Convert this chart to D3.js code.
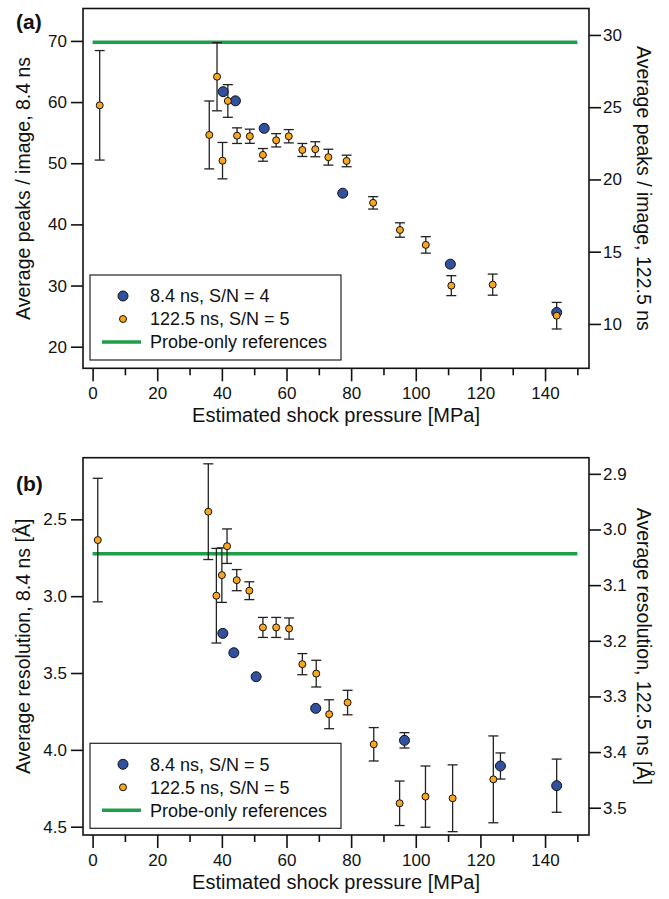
<!DOCTYPE html>
<html>
<head>
<meta charset="utf-8">
<script src="https://cdn.jsdelivr.net/npm/d3@7"></script>
<style>
body { margin: 0; background: #fff; }
svg text { font-family: "Liberation Sans", Arial, sans-serif; fill: #111; }
</style>
</head>
<body>
<div id="chart"></div>
<script>
// ---- panel (a): peaks per image ----
var peaksFastX = [40.4, 44.2, 53.1, 77.4, 110.7, 143.6]
var peaksFastY = [61.7, 60.2, 55.7, 45.1, 33.5, 25.6]
var peaksFastErr = [0, 0, 0, 0, 0, 0]

var peaksSlowX = [2.2, 36.1, 38.5, 40.2, 41.85, 44.7, 48.65, 52.7, 56.8, 60.7, 64.9, 68.9, 72.95, 78.6, 86.8, 95.1, 103.1, 111.0, 123.8, 143.6]
var peaksSlowY = [25.13, 23.08, 27.11, 21.30, 25.43, 23.03, 22.99, 21.70, 22.71, 22.99, 22.04, 22.09, 21.54, 21.28, 18.38, 16.50, 15.47, 12.65, 12.72, 10.57]
var peaksSlowErr = [3.79, 2.35, 2.36, 1.26, 1.13, 0.54, 0.49, 0.44, 0.46, 0.46, 0.45, 0.52, 0.55, 0.40, 0.43, 0.50, 0.57, 0.69, 0.73, 0.92]

var peaksRef = 69.8

// ---- panel (b): resolution ----
var resFastX = [40.3, 43.7, 50.6, 69.05, 96.5, 126.2, 143.6]
var resFastY = [3.242, 3.368, 3.524, 3.730, 3.938, 4.105, 4.233]
var resFastErr = [0, 0, 0, 0.01, 0.05, 0.085, 0.173]

var resSlowX = [1.6, 35.8, 38.3, 40.0, 41.6, 44.6, 48.5, 52.7, 56.8, 60.8, 64.9, 69.2, 73.2, 78.9, 87.0, 95.0, 103.0, 111.4, 124.0]
var resSlowY = [3.019, 2.968, 3.119, 3.082, 3.030, 3.091, 3.110, 3.176, 3.176, 3.178, 3.242, 3.259, 3.332, 3.311, 3.386, 3.492, 3.480, 3.483, 3.449]
var resSlowErr = [0.111, 0.086, 0.085, 0.049, 0.031, 0.019, 0.016, 0.018, 0.018, 0.019, 0.019, 0.024, 0.026, 0.022, 0.030, 0.040, 0.055, 0.060, 0.078]

var resRef = 2.724

// axis ticks
var xMajor = [0, 20, 40, 60, 80, 100, 120, 140]
var xMinor = [10, 30, 50, 70, 90, 110, 130, 150]
var peaksLeftTicks = [20, 30, 40, 50, 60, 70]
var peaksRightTicks = [10, 15, 20, 25, 30]
var resLeftTicks = [2.5, 3.0, 3.5, 4.0, 4.5]
var resRightTicks = [2.9, 3.0, 3.1, 3.2, 3.3, 3.4, 3.5]

var blue = "#31509e", orange = "#f8a61d", green = "#1f9e4a"

var W = 669, H = 899
var svg = d3.select("#chart").append("svg")
	.attr("width", W)
	.attr("height", H)

var left = 83, right = 589

// shared x scale
var x = d3.scaleLinear().domain([-2.97, 153.6]).range([left, right])

function drawPanel(cfg) {
	var g = svg.append("g")
	var top = cfg.top, bottom = cfg.bottom

	var yL = d3.scaleLinear().domain(cfg.leftDomain).range(cfg.leftRange)
	var yR = d3.scaleLinear().domain(cfg.rightDomain).range(cfg.rightRange)

	// reference line
	g.append("line")
		.attr("x1", x(0)).attr("x2", x(150))
		.attr("y1", yL(cfg.ref)).attr("y2", yL(cfg.ref))
		.attr("stroke", green).attr("stroke-width", 3.5)

	// frame
	g.append("rect")
		.attr("x", left).attr("y", top)
		.attr("width", right - left).attr("height", bottom - top)
		.attr("fill", "none").attr("stroke", "#111").attr("stroke-width", 1.6)

	// axes
	var ax = g.append("g").attr("transform", "translate(0," + bottom + ")")
		.call(d3.axisBottom(x).tickValues(xMajor).tickSize(13).tickSizeOuter(0).tickPadding(6))
	var axm = g.append("g").attr("transform", "translate(0," + bottom + ")")
		.call(d3.axisBottom(x).tickValues(xMinor).tickSize(7).tickSizeOuter(0).tickFormat(""))
	var al = g.append("g").attr("transform", "translate(" + left + ",0)")
		.call(d3.axisLeft(yL).tickValues(cfg.leftTicks).tickSize(12).tickSizeOuter(0).tickPadding(4).tickFormat(cfg.leftFmt))
	var ar = g.append("g").attr("transform", "translate(" + right + ",0)")
		.call(d3.axisRight(yR).tickValues(cfg.rightTicks).tickSize(12).tickSizeOuter(0).tickPadding(2).tickFormat(cfg.rightFmt))

	;[ax, axm, al, ar].forEach(function(a) {
		a.select(".domain").remove()
		a.selectAll(".tick line").attr("stroke", "#111").attr("stroke-width", 1.6)
		a.selectAll(".tick text").style("font-size", "17px").attr("fill", "#111")
	})

	// error bars
	function errBars(xs, ys, es, yScale) {
		var d = xs.map(function(v, i) { return {x: v, y: ys[i], e: es[i]} }).filter(function(p) { return p.e > 0 })
		var eg = g.append("g").attr("stroke", "#222").attr("stroke-width", 1.3)
		eg.selectAll(".v").data(d).enter().append("line")
			.attr("x1", function(p) { return x(p.x) }).attr("x2", function(p) { return x(p.x) })
			.attr("y1", function(p) { return yScale(p.y - p.e) }).attr("y2", function(p) { return yScale(p.y + p.e) })
		eg.selectAll(".t").data(d).enter().append("line")
			.attr("x1", function(p) { return x(p.x) - 5 }).attr("x2", function(p) { return x(p.x) + 5 })
			.attr("y1", function(p) { return yScale(p.y + p.e) }).attr("y2", function(p) { return yScale(p.y + p.e) })
		eg.selectAll(".b").data(d).enter().append("line")
			.attr("x1", function(p) { return x(p.x) - 5 }).attr("x2", function(p) { return x(p.x) + 5 })
			.attr("y1", function(p) { return yScale(p.y - p.e) }).attr("y2", function(p) { return yScale(p.y - p.e) })
	}
	errBars(cfg.slowX, cfg.slowY, cfg.slowErr, yR)
	errBars(cfg.fastX, cfg.fastY, cfg.fastErr, yL)

	// markers
	g.append("g").selectAll("circle").data(cfg.fastX).enter().append("circle")
		.attr("cx", function(d) { return x(d) })
		.attr("cy", function(d, i) { return yL(cfg.fastY[i]) })
		.attr("r", 5).attr("fill", blue).attr("stroke", "#111").attr("stroke-width", 1)
	g.append("g").selectAll("circle").data(cfg.slowX).enter().append("circle")
		.attr("cx", function(d) { return x(d) })
		.attr("cy", function(d, i) { return yR(cfg.slowY[i]) })
		.attr("r", 3.5).attr("fill", orange).attr("stroke", "#111").attr("stroke-width", 1)

	// legend
	var lg = g.append("g").attr("transform", "translate(90," + cfg.legendTop + ")")
	lg.append("rect").attr("width", 251).attr("height", 85)
		.attr("fill", "#fff").attr("stroke", "#222").attr("stroke-width", 1.2)
	lg.append("circle").attr("cx", 33).attr("cy", 21).attr("r", 5)
		.attr("fill", blue).attr("stroke", "#111")
	lg.append("circle").attr("cx", 33).attr("cy", 44).attr("r", 3.5)
		.attr("fill", orange).attr("stroke", "#111")
	lg.append("line").attr("x1", 12).attr("x2", 51).attr("y1", 67).attr("y2", 67)
		.attr("stroke", green).attr("stroke-width", 3.5)
	lg.selectAll("text.lab").data(cfg.legendLabels).enter().append("text")
		.attr("x", 60).attr("y", function(d, i) { return 21 + i * 23 })
		.attr("dy", "0.35em").style("font-size", "18px").text(function(d) { return d })

	// titles
	g.append("text").attr("x", (left + right) / 2).attr("y", bottom + 54)
		.attr("text-anchor", "middle").style("font-size", "20px")
		.text("Estimated shock pressure [MPa]")
	g.append("text")
		.attr("transform", "translate(30," + (top + bottom) / 2 + ") rotate(-90)")
		.attr("text-anchor", "middle").style("font-size", "19.5px").text(cfg.leftTitle)
	g.append("text")
		.attr("transform", "translate(637," + (top + bottom) / 2 + ") rotate(90)")
		.attr("text-anchor", "middle").style("font-size", "19.5px").text(cfg.rightTitle)
	g.append("text").attr("x", 16).attr("y", cfg.labelY)
		.style("font-size", "21px").style("font-weight", "bold").text(cfg.label)
}

drawPanel({
	top: 8.5, bottom: 368.3,
	leftDomain: [16.47, 75.3], leftRange: [368.3, 8.5],
	rightDomain: [6.93, 31.83], rightRange: [368.3, 8.5],
	leftTicks: peaksLeftTicks, rightTicks: peaksRightTicks,
	leftFmt: d3.format("d"), rightFmt: d3.format("d"),
	ref: peaksRef,
	fastX: peaksFastX, fastY: peaksFastY, fastErr: peaksFastErr,
	slowX: peaksSlowX, slowY: peaksSlowY, slowErr: peaksSlowErr,
	legendTop: 275,
	legendLabels: ["8.4 ns, S/N = 4", "122.5 ns, S/N = 5", "Probe-only references"],
	leftTitle: "Average peaks / image, 8.4 ns",
	rightTitle: "Average peaks / image, 122.5 ns",
	label: "(a)", labelY: 29
})

drawPanel({
	top: 457.7, bottom: 835,
	leftDomain: [2.099, 4.554], leftRange: [457.7, 835],
	rightDomain: [2.871, 3.549], rightRange: [457.7, 835],
	leftTicks: resLeftTicks, rightTicks: resRightTicks,
	leftFmt: d3.format(".1f"), rightFmt: d3.format(".1f"),
	ref: resRef,
	fastX: resFastX, fastY: resFastY, fastErr: resFastErr,
	slowX: resSlowX, slowY: resSlowY, slowErr: resSlowErr,
	legendTop: 743.3,
	legendLabels: ["8.4 ns, S/N = 5", "122.5 ns, S/N = 5", "Probe-only references"],
	leftTitle: "Average resolution, 8.4 ns [Å]",
	rightTitle: "Average resolution, 122.5 ns [Å]",
	label: "(b)", labelY: 491
})
</script>
</body>
</html>
